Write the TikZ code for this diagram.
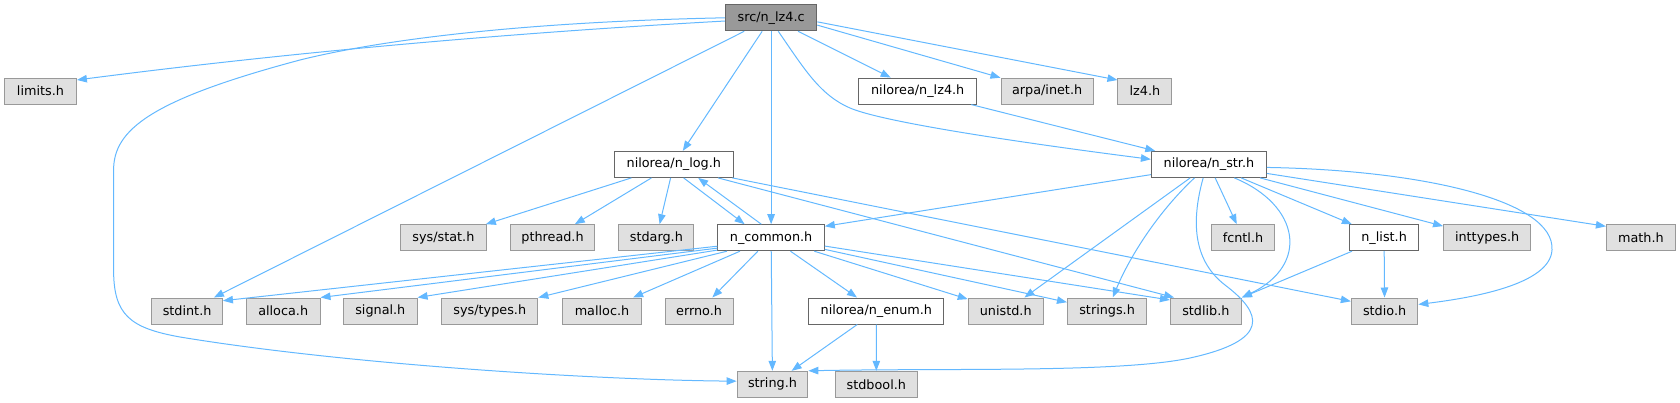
\documentclass[tikz,border=0pt]{standalone}
\usepackage{fontspec}
\setmainfont{DejaVu Sans}
\usetikzlibrary{arrows.meta}
\definecolor{edgeblue}{HTML}{63B8FF}
\definecolor{sysfill}{HTML}{E0E0E0}
\definecolor{sysdraw}{HTML}{999999}
\definecolor{prjdraw}{HTML}{666666}
\definecolor{mainfill}{HTML}{999999}
\begin{document}
\begin{tikzpicture}[x=1pt,y=-1pt,
  box/.style={draw, line width=1pt, minimum height=26pt, inner sep=0pt, font=\fontsize{12.8}{14}\selectfont, anchor=center},
  sys/.style={box, fill=sysfill, draw=sysdraw},
  prj/.style={box, fill=white, draw=prjdraw},
  mainnode/.style={box, fill=mainfill, draw=prjdraw},
  edge/.style={draw=edgeblue, line width=1pt, -{Triangle[length=10pt,width=7.5pt]}}
]
\useasboundingbox (0,0) rectangle (1680,403);
% row 0
\node[mainnode, minimum width=91.4pt] (src) at (771.1,17.8) {src/n\_lz4.c};
% row 1
\node[sys, minimum width=71.8pt] (limits) at (40.5,91.1) {limits.h};
\node[prj, minimum width=118.2pt] (nlz4h) at (917.7,91.1) {nilorea/n\_lz4.h};
\node[sys, minimum width=92.2pt] (arpa) at (1047.1,91.1) {arpa/inet.h};
\node[sys, minimum width=53.9pt] (lz4) at (1144.9,91.1) {lz4.h};
% row 2
\node[prj, minimum width=118.9pt] (nlog) at (673.8,164.4) {nilorea/n\_log.h};
\node[prj, minimum width=115pt] (nstr) at (1208.9,164.4) {nilorea/n\_str.h};
% row 3
\node[sys, minimum width=86pt] (sysstat) at (443.4,237.7) {sys/stat.h};
\node[sys, minimum width=84.2pt] (pthread) at (552.5,237.7) {pthread.h};
\node[sys, minimum width=75pt] (stdarg) at (656.4,237.7) {stdarg.h};
\node[prj, minimum width=106.4pt] (ncommon) at (771.1,237.7) {n\_common.h};
\node[sys, minimum width=62.5pt] (fcntl) at (1243,237.7) {fcntl.h};
\node[prj, minimum width=69.6pt] (nlist) at (1384.1,237.7) {n\_list.h};
\node[sys, minimum width=87.1pt] (inttypes) at (1487.1,237.7) {inttypes.h};
\node[sys, minimum width=69pt] (math) at (1640.9,237.7) {math.h};
% row 4
\node[sys, minimum width=70.7pt] (stdint) at (187.1,311) {stdint.h};
\node[sys, minimum width=73.6pt] (alloca) at (283.2,311) {alloca.h};
\node[sys, minimum width=73.5pt] (signal) at (380.3,311) {signal.h};
\node[sys, minimum width=96.1pt] (systypes) at (489.8,311) {sys/types.h};
\node[sys, minimum width=78.9pt] (malloc) at (602,311) {malloc.h};
\node[sys, minimum width=68.2pt] (errno) at (699.1,311) {errno.h};
\node[prj, minimum width=135pt] (nenum) at (876.4,311) {nilorea/n\_enum.h};
\node[sys, minimum width=75pt] (unistd) at (1005.7,311) {unistd.h};
\node[sys, minimum width=79.3pt] (strings) at (1107.1,311) {strings.h};
\node[sys, minimum width=71pt] (stdlib) at (1205.9,311) {stdlib.h};
\node[sys, minimum width=66.5pt] (stdio) at (1384.6,311) {stdio.h};
% row 5
\node[sys, minimum width=70.7pt] (string) at (772.5,384.3) {string.h};
\node[sys, minimum width=82.5pt] (stdbool) at (876.3,384.3) {stdbool.h};

% edges from src
\draw[edge] (src.184) .. controls (509,33) and (293,52) .. (limits.17);
\draw[edge] (src.180) .. controls (520,22) and (380,40) .. (300,60)
  .. controls (150,100) and (113.6,130) .. (113.6,170) -- (113.6,270)
  .. controls (113.6,315) and (130,328) .. (180,337)
  .. controls (350,365) and (600,380) .. (string.175);
\draw[edge] (src) -- (stdint);
\draw[edge] (src) -- (nlog);
\draw[edge] (src) -- (ncommon);
\draw[edge] (src.-62) .. controls (805,70) and (820,95) .. (850,108)
  .. controls (880,121) and (1000,140) .. (nstr.175);
\draw[edge] (src) -- (nlz4h);
\draw[edge] (src.-9) -- (arpa);
\draw[edge] (src.-5) -- (lz4.158);
% n_lz4.h
\draw[edge] (nlz4h) -- (nstr);
% n_log.h
\draw[edge] (nlog) -- (sysstat);
\draw[edge] (nlog) -- (pthread);
\draw[edge] (nlog) -- (stdarg);
\draw[edge] (nlog.-54) -- (ncommon.153);
\draw[edge] (nlog.-17) -- (stdlib.157);
\draw[edge] (nlog.-13) -- (stdio.164);
% n_common.h
\draw[edge] (ncommon.126) -- (nlog.-29);
\draw[edge] (ncommon.189) -- (stdint.16);
\draw[edge] (ncommon.191) -- (alloca.north east);
\draw[edge] (ncommon.193) -- (signal.north east);
\draw[edge] (ncommon.197) -- (systypes.north east);
\draw[edge] (ncommon) -- (malloc);
\draw[edge] (ncommon) -- (errno);
\draw[edge] (ncommon) -- (string);
\draw[edge] (ncommon) -- (nenum);
\draw[edge] (ncommon) -- (unistd);
\draw[edge] (ncommon) -- (strings);
\draw[edge] (ncommon) -- (stdlib.163);
% n_str.h
\draw[edge] (nstr.190) -- (ncommon.12);
\draw[edge] (nstr) -- (unistd);
\draw[edge] (nstr) .. controls (1158,212) and (1130,256) .. (strings);
\draw[edge] (nstr.-113) .. controls (1190,225) and (1195,262) .. (1225,285)
  .. controls (1262,313) and (1272,340) .. (1190,358)
  .. controls (1120,373) and (950,368) .. (string.north east);
\draw[edge] (nstr.-28) .. controls (1300,205) and (1310,265) .. (stdlib.north east);
\draw[edge] (nstr) -- (fcntl);
\draw[edge] (nstr) -- (nlist);
\draw[edge] (nstr) -- (inttypes);
\draw[edge] (nstr) -- (math.162);
\draw[edge] (nstr.-3) .. controls (1420,170) and (1555,200) .. (1552,250)
  .. controls (1550,285) and (1470,298) .. (stdio.11);
% n_list.h
\draw[edge] (nlist) -- (stdlib.north east);
\draw[edge] (nlist) -- (stdio);
% n_enum.h
\draw[edge] (nenum) -- (string);
\draw[edge] (nenum) -- (stdbool);
\end{tikzpicture}
\end{document}
